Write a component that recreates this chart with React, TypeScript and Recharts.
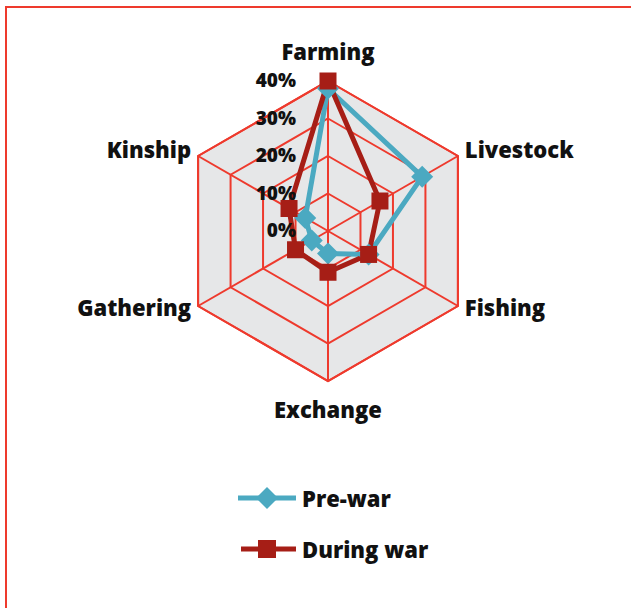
import React from 'react';
import { RadarChart, Radar, PolarGrid, PolarAngleAxis, PolarRadiusAxis, Legend } from 'recharts';

const categories = ['Farming', 'Livestock', 'Fishing', 'Exchange', 'Gathering', 'Kinship'];
const preWar = [38, 29, 12.5, 6, 5, 7];
const duringWar = [40, 16, 12.5, 11, 10, 12];
const radiusTicks = [0, 10, 20, 30, 40];

const data = categories.map((name, i) => ({ name, preWar: preWar[i], duringWar: duringWar[i] }));

const GRID_RED = '#EE3A2D';
const CYAN = '#4BA9C1';
const DARK_RED = '#A61E16';
const FONT = '"Open Sans", sans-serif';
const CY = 231;

const AngleTick = (props: any) => {
  const { x, y, payload, textAnchor } = props;
  let dy = 6;
  if (y < CY - 100) dy = -13;
  else if (y > CY + 100) dy = 29;
  return (
    <text x={x} y={y + dy} textAnchor={textAnchor} fontFamily={FONT} fontWeight={800} fontSize={22} fill="#111">
      {payload.value}
    </text>
  );
};

const RadiusTick = (props: any) => {
  const { x, y, payload } = props;
  return (
    <text x={x - 32} y={y + 6} textAnchor="end" fontFamily={FONT} fontWeight={800} fontSize={19} fill="#111">
      {payload.value}%
    </text>
  );
};

const SquareDot = (props: any) => {
  const { cx, cy } = props;
  return <rect x={cx - 8.5} y={cy - 8.5} width={17} height={17} fill={DARK_RED} />;
};

const DiamondDot = (props: any) => {
  const { cx, cy } = props;
  return <polygon points={`${cx},${cy - 11} ${cx + 11},${cy} ${cx},${cy + 11} ${cx - 11},${cy}`} fill={CYAN} />;
};

const renderLegend = () => (
  <div style={{ fontFamily: FONT, fontWeight: 800, fontSize: 22, color: '#111' }}>
    <div style={{ display: 'flex', alignItems: 'center', height: 40 }}>
      <svg width={64} height={30}>
        <line x1={2} y1={15} x2={60} y2={15} stroke={CYAN} strokeWidth={5} />
        <polygon points="31,4 42,15 31,26 20,15" fill={CYAN} />
      </svg>
      <span style={{ marginLeft: 2 }}>Pre-war</span>
    </div>
    <div style={{ display: 'flex', alignItems: 'center', height: 40, marginTop: 11 }}>
      <svg width={64} height={30}>
        <line x1={5} y1={15} x2={60} y2={15} stroke={DARK_RED} strokeWidth={5} />
        <rect x={22} y={6} width={18} height={18} fill={DARK_RED} />
      </svg>
      <span style={{ marginLeft: 2 }}>During war</span>
    </div>
  </div>
);

export default function App() {
  return (
    <div style={{ position: 'absolute', left: 0, top: 0, width: 631, height: 608, background: '#fff' }}>
      <div style={{ position: 'absolute', left: 5, top: 6, right: 0, bottom: 0, borderTop: `2px solid ${GRID_RED}`, borderLeft: `2px solid ${GRID_RED}` }} />
      <RadarChart width={631} height={608} cx={328} cy={CY} outerRadius={150} data={data} margin={{ top: 0, right: 0, bottom: 0, left: 0 }}>
        <PolarGrid gridType="polygon" stroke={GRID_RED} strokeWidth={2} fill="#E6E7E8" fillOpacity={1} />
        <PolarAngleAxis dataKey="name" tick={<AngleTick />} tickLine={false} axisLine={false} />
        <PolarRadiusAxis angle={90} domain={[0, 40]} ticks={radiusTicks as any} tickCount={5} axisLine={false} tickLine={false} tick={<RadiusTick />} />
        <Radar name="Pre-war" dataKey="preWar" stroke={CYAN} strokeWidth={5} fill="none" fillOpacity={0} dot={<DiamondDot />} isAnimationActive={false} />
        <Radar name="During war" dataKey="duringWar" stroke={DARK_RED} strokeWidth={5} fill="none" fillOpacity={0} dot={<SquareDot />} isAnimationActive={false} />
        <Legend content={renderLegend} wrapperStyle={{ position: 'absolute', left: 236, top: 478, width: 240 }} />
      </RadarChart>
    </div>
  );
}
